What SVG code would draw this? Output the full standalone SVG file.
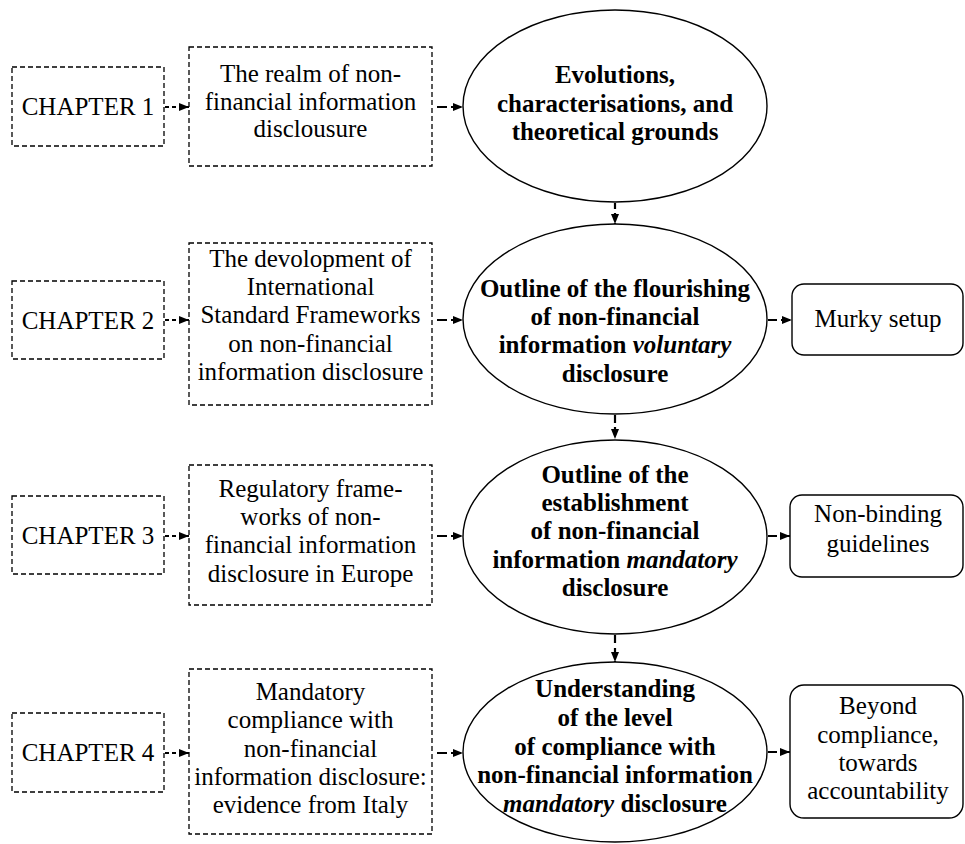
<svg xmlns="http://www.w3.org/2000/svg" width="965" height="844" viewBox="0 0 965 844">
  <style>
    text { font-family: "Liberation Serif", "Times New Roman", serif; font-size: 25px; fill: #000; text-anchor: middle; }
    .b { font-weight: bold; }
    .i { font-style: italic; }
    .dbox { fill: #fff; stroke: #000; stroke-width: 1.3; stroke-dasharray: 5 3; }
    .oval { fill: #fff; stroke: #000; stroke-width: 1.4; }
    .rbox { fill: #fff; stroke: #000; stroke-width: 1.4; }
    .link { fill: none; stroke: #000; stroke-width: 2.2; marker-end: url(#head); }
  </style>
  <defs>
    <marker id="head" viewBox="0 0 10 8" refX="10" refY="4" markerWidth="10" markerHeight="8" markerUnits="userSpaceOnUse" orient="auto">
      <path d="M0,0 L10,4 L0,8 Z" fill="#000"/>
    </marker>
  </defs>
  <rect width="965" height="844" fill="#fff"/>

  <!-- connectors -->
  <g id="connectors">
    <!-- chapter -> topic -->
    <line class="link" x1="165" y1="107" x2="189" y2="107" stroke-dasharray="4 3"/>
    <line class="link" x1="165" y1="320" x2="189" y2="320" stroke-dasharray="4 3"/>
    <line class="link" x1="165" y1="536" x2="189" y2="536" stroke-dasharray="4 3"/>
    <line class="link" x1="165" y1="753" x2="189" y2="753" stroke-dasharray="4 3"/>
    <!-- topic -> outline -->
    <line class="link" x1="437" y1="107" x2="463" y2="107" stroke-dasharray="10 4"/>
    <line class="link" x1="437" y1="320" x2="463" y2="320" stroke-dasharray="10 4"/>
    <line class="link" x1="437" y1="536" x2="463" y2="536" stroke-dasharray="10 4"/>
    <line class="link" x1="437" y1="753" x2="463" y2="753" stroke-dasharray="10 4"/>
    <!-- outline -> outcome -->
    <line class="link" x1="768" y1="320" x2="792" y2="320" stroke-dasharray="9 4"/>
    <line class="link" x1="768" y1="536" x2="790" y2="536" stroke-dasharray="9 4"/>
    <line class="link" x1="768" y1="752" x2="790" y2="752" stroke-dasharray="9 4"/>
    <!-- outline -> next outline -->
    <line class="link" x1="615" y1="203" x2="615" y2="224" stroke-dasharray="6 4"/>
    <line class="link" x1="615" y1="415" x2="615" y2="439" stroke-dasharray="8 4"/>
    <line class="link" x1="615" y1="635" x2="615" y2="662" stroke-dasharray="8 5"/>
  </g>

  <!-- row 1 -->
  <g id="chapter1">
    <rect class="dbox" x="12" y="67" width="152" height="79"/>
    <text x="88" y="115">CHAPTER 1</text>
  </g>
  <g id="topic1">
    <rect class="dbox" x="189" y="47" width="243" height="119"/>
    <text x="310.5" y="82">The realm of non-</text>
    <text x="310.5" y="110">financial information</text>
    <text x="310.5" y="137">disclousure</text>
  </g>
  <g id="outline1">
    <ellipse class="oval" cx="615" cy="106" rx="152" ry="96"/>
    <text class="b" x="615" y="83">Evolutions,</text>
    <text class="b" x="615" y="112">characterisations, and</text>
    <text class="b" x="615" y="140">theoretical grounds</text>
  </g>

  <!-- row 2 -->
  <g id="chapter2">
    <rect class="dbox" x="12" y="281" width="152" height="78"/>
    <text x="88" y="329">CHAPTER 2</text>
  </g>
  <g id="topic2">
    <rect class="dbox" x="189" y="243" width="243" height="162"/>
    <text x="310.5" y="267">The devolopment of</text>
    <text x="310.5" y="295">International</text>
    <text x="310.5" y="323">Standard Frameworks</text>
    <text x="310.5" y="352">on non-financial</text>
    <text x="310.5" y="380">information disclosure</text>
  </g>
  <g id="outline2">
    <ellipse class="oval" cx="615" cy="319" rx="152" ry="95"/>
    <text class="b" x="615" y="297">Outline of the flourishing</text>
    <text class="b" x="615" y="325">of non-financial</text>
    <text class="b" x="615" y="353">information <tspan class="i">voluntary</tspan></text>
    <text class="b" x="615" y="382">disclosure</text>
  </g>
  <g id="outcome2">
    <rect class="rbox" x="792" y="284" width="171" height="71" rx="12"/>
    <text x="878" y="327">Murky setup</text>
  </g>

  <!-- row 3 -->
  <g id="chapter3">
    <rect class="dbox" x="12" y="496" width="152" height="78"/>
    <text x="88" y="544">CHAPTER 3</text>
  </g>
  <g id="topic3">
    <rect class="dbox" x="189" y="465" width="243" height="140"/>
    <text x="310.5" y="497">Regulatory frame-</text>
    <text x="310.5" y="525">works of non-</text>
    <text x="310.5" y="553">financial information</text>
    <text x="310.5" y="582">disclosure in Europe</text>
  </g>
  <g id="outline3">
    <ellipse class="oval" cx="615" cy="537" rx="152" ry="97"/>
    <text class="b" x="615" y="483">Outline of the</text>
    <text class="b" x="615" y="511">establishment</text>
    <text class="b" x="615" y="539">of non-financial</text>
    <text class="b" x="615" y="568">information <tspan class="i">mandatory</tspan></text>
    <text class="b" x="615" y="596">disclosure</text>
  </g>
  <g id="outcome3">
    <rect class="rbox" x="790" y="495" width="173" height="82" rx="12"/>
    <text x="878" y="522">Non-binding</text>
    <text x="878" y="552">guidelines</text>
  </g>

  <!-- row 4 -->
  <g id="chapter4">
    <rect class="dbox" x="12" y="713" width="152" height="79"/>
    <text x="88" y="761">CHAPTER 4</text>
  </g>
  <g id="topic4">
    <rect class="dbox" x="189" y="669" width="243" height="165"/>
    <text x="310.5" y="700">Mandatory</text>
    <text x="310.5" y="728">compliance with</text>
    <text x="310.5" y="757">non-financial</text>
    <text x="310.5" y="785">information disclosure:</text>
    <text x="310.5" y="813">evidence from Italy</text>
  </g>
  <g id="outline4">
    <ellipse class="oval" cx="615" cy="752" rx="152" ry="90"/>
    <text class="b" x="615" y="697">Understanding</text>
    <text class="b" x="615" y="726">of the level</text>
    <text class="b" x="615" y="755">of compliance with</text>
    <text class="b" x="615" y="783">non-financial information</text>
    <text class="b" x="615" y="812"><tspan class="i">mandatory</tspan> disclosure</text>
  </g>
  <g id="outcome4">
    <rect class="rbox" x="790" y="685" width="173" height="133" rx="14"/>
    <text x="878" y="714">Beyond</text>
    <text x="878" y="743">compliance,</text>
    <text x="878" y="771">towards</text>
    <text x="878" y="799">accountability</text>
  </g>
</svg>
